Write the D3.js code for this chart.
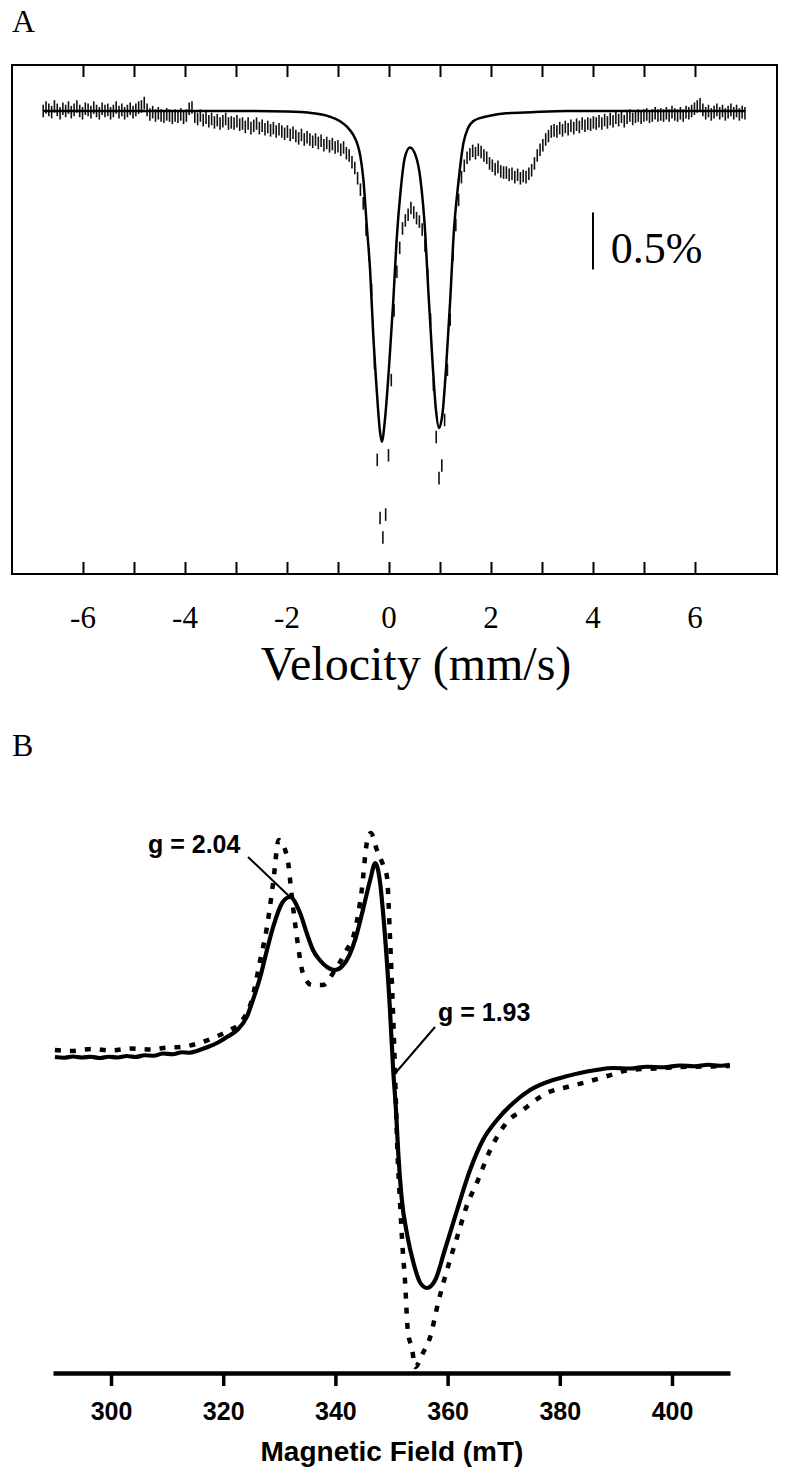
<!DOCTYPE html>
<html>
<head>
    <meta charset="utf-8">
    <title>Mossbauer and EPR spectra</title>
    <script src="https://cdn.jsdelivr.net/npm/d3@7"></script>
    <style>
        body { margin: 0; background: #fff; }
        svg { display: block; }
        .serif { font-family: "Liberation Serif", "Times New Roman", serif; fill: #000; }
        .sans { font-family: "Liberation Sans", Arial, sans-serif; font-weight: bold; fill: #000; }
    </style>
</head>
<body>
<script>
    // ---- panel A : Mossbauer spectrum (transmission change in %) ----
    // channels are evenly spaced in velocity between velStart and velEnd
    var velStart = -6.78, velEnd = 6.98;
    var transPct = [
        0, 0.03, 0.01, -0.01, 0.04, 0.01, -0.02, 0.02, 0, 0.03, -0.01, 0.01, 0.04, 0, -0.02, 0.02, 0.01, -0.01,
        0.03, 0, -0.02, 0.02, 0, 0.01, -0.02, 0, 0.03, -0.01, 0.01, -0.02, 0, 0.02, -0.01, 0.01, 0.03, 0.04,
        0.07, 0.01, -0.03, -0.01, -0.04, -0.02, -0.04, -0.05, -0.03, -0.04, -0.06, -0.04, -0.05, -0.03, -0.06, -0.04, 0.02, 0.03,
        -0.05, -0.07, -0.04, -0.08, -0.06, -0.09, -0.07, -0.10, -0.08, -0.11, -0.09, -0.07, -0.11, -0.10, -0.11, -0.09,
        -0.12, -0.11, -0.14, -0.11, -0.15, -0.13, -0.11, -0.15, -0.13, -0.16, -0.14, -0.17, -0.15, -0.18, -0.16, -0.18,
        -0.20, -0.18, -0.21, -0.19, -0.22, -0.24, -0.21, -0.25, -0.23, -0.25, -0.27, -0.25, -0.28, -0.26,
        -0.30, -0.28, -0.31, -0.29, -0.32, -0.31, -0.34, -0.32, -0.37, -0.39, -0.45, -0.50, -0.59, -0.69,
        -0.81, -1.04, -1.26, -1.57, -2.21, -3.06, -3.57, -3.74, -3.54, -3.02, -2.36, -1.75, -1.41, -1.20, -1.03, -0.96, -0.91, -0.85,
        -0.89, -0.94, -0.97, -1.04, -1.18, -1.44, -1.83, -2.40, -2.86, -3.22, -3.11, -2.71, -2.27, -1.83, -1.26, -1.00, -0.78,
        -0.58, -0.48, -0.41, -0.38, -0.35, -0.37, -0.34, -0.36, -0.39, -0.41,
        -0.46, -0.48, -0.51, -0.49, -0.53, -0.54, -0.54, -0.56, -0.55, -0.58,
        -0.56, -0.59, -0.57, -0.58, -0.55, -0.52, -0.46, -0.39, -0.34, -0.30,
        -0.25, -0.22, -0.18, -0.17, -0.18, -0.15, -0.17, -0.14, -0.16, -0.13,
        -0.15, -0.12, -0.14, -0.11, -0.13, -0.11, -0.12, -0.10, -0.11, -0.09,
        -0.11, -0.08, -0.10, -0.07, -0.09, -0.06, -0.08, -0.05, -0.09, -0.06,
        -0.04, -0.07, -0.05, -0.04, -0.06, -0.04, -0.03, -0.05, -0.04, -0.02,
        -0.04, -0.03, -0.04, -0.02, -0.04, -0.01, -0.03, -0.04, -0.02, -0.04,
        -0.01, -0.02, 0, 0.02, 0.04, 0.06, 0.01, -0.02, 0, -0.03,
        -0.01, 0.01, -0.02, 0, -0.03, -0.01, 0.01, -0.02, 0, -0.03,
        -0.01, -0.02
    ];
    var errPct = 0.055;

    var fitVel = [-6.78, -3.0, -2.0, -1.49, -1.16, -0.96, -0.82, -0.70, -0.62, -0.56, -0.50, -0.44, -0.37, -0.31,
        -0.24, -0.18, -0.14, -0.08, 0.0, 0.085, 0.15, 0.23, 0.31, 0.41, 0.53, 0.62, 0.71, 0.77, 0.86, 0.92,
        0.98, 1.05, 1.12, 1.20, 1.27, 1.36, 1.46, 1.55, 1.65, 1.80, 2.0, 2.3, 2.8, 3.5, 6.98];
    var fitPct = [0, 0, -0.005, -0.02, -0.05, -0.09, -0.14, -0.21, -0.29, -0.40, -0.61, -0.98, -1.40, -1.95,
        -2.45, -2.80, -2.90, -2.71, -2.25, -1.66, -1.13, -0.69, -0.41, -0.32, -0.40, -0.61, -1.07, -1.57, -2.25, -2.62,
        -2.78, -2.65, -2.25, -1.66, -1.07, -0.63, -0.28, -0.15, -0.09, -0.06, -0.04, -0.02, -0.01, 0, 0];

    var velTicks = [-6, -5, -4, -3, -2, -1, 0, 1, 2, 3, 4, 5, 6];
    var velLabels = [-6, -4, -2, 0, 2, 4, 6];

    // ---- panel B : EPR spectra (arbitrary units) ----
    var solidField = [290.0, 291.6, 293.2, 294.8, 296.4, 298.0, 299.6, 301.2, 302.8, 304.4, 306.0, 307.6, 309.3, 311.0,
        312.6, 314.0, 315.3, 317.0, 318.9, 320.8, 322.5, 324.2, 325.3, 326.6, 327.8, 328.9, 330.5, 331.9, 333.7, 335.0,
        336.0, 337.2, 338.5, 339.9, 341.2, 342.5, 343.5, 344.9, 346.2, 347.1, 347.9, 348.8, 349.7, 350.3, 350.8, 351.2,
        351.8, 352.8, 353.9, 355.1, 356.3, 357.8, 359.5, 361.7, 364.0, 366.3, 368.8, 371.7, 374.7, 378.8, 381.0, 383.6,
        386.5, 389.5, 392.5, 395.5, 398.5, 401.4, 404.0, 406.5, 408.5, 410.3];
    var solidSignal = [0.012, 0.009, 0.014, 0.01, 0.013, 0.008, 0.013, 0.01, 0.016, 0.012, 0.019, 0.017, 0.026, 0.023,
        0.031, 0.029, 0.036, 0.05, 0.068, 0.094, 0.12, 0.172, 0.24, 0.332, 0.44, 0.532, 0.628, 0.652, 0.588, 0.50,
        0.44, 0.40, 0.372, 0.36, 0.375, 0.42, 0.48, 0.60, 0.72, 0.788, 0.72, 0.508, 0.212, -0.04, -0.20, -0.37,
        -0.55, -0.70, -0.81, -0.89, -0.912, -0.88, -0.76, -0.60, -0.44, -0.32, -0.24, -0.172, -0.12, -0.08, -0.066, -0.052,
        -0.04, -0.032, -0.034, -0.027, -0.029, -0.022, -0.025, -0.019, -0.023, -0.019];

    var dotField = [290.0, 293.0, 296.5, 300.0, 303.4, 307.0, 310.0, 312.3, 315.5, 318.2, 321.0, 323.0, 325.1, 326.6,
        327.8, 328.9, 329.9, 331.4, 332.3, 333.2, 334.2, 335.8, 337.8, 339.6, 341.7, 343.5, 344.7, 345.6, 346.3, 347.4,
        348.5, 349.2, 349.7, 350.3, 350.6, 351.0, 351.5, 352.0, 352.4, 352.9, 353.7, 354.2, 355.6, 356.9, 358.3, 359.9,
        361.7, 363.6, 365.2, 367.6, 370.6, 373.4, 377.7, 381.3, 384.8, 388.5, 392.5, 397.0, 401.4, 406.0, 410.3];
    var dotSignal = [0.04, 0.036, 0.044, 0.038, 0.046, 0.042, 0.05, 0.052, 0.066, 0.088, 0.118, 0.148, 0.24, 0.40,
        0.532, 0.708, 0.88, 0.812, 0.64, 0.48, 0.348, 0.30, 0.30, 0.348, 0.428, 0.52, 0.68, 0.868, 0.908, 0.84,
        0.78, 0.732, 0.508, 0.172, -0.028, -0.332, -0.56, -0.76, -0.88, -1.08, -1.16, -1.228, -1.172, -1.108, -0.972, -0.84,
        -0.708, -0.572, -0.492, -0.36, -0.248, -0.20, -0.132, -0.108, -0.088, -0.064, -0.04, -0.034, -0.028, -0.026, -0.024];

    var fieldTicks = [300, 320, 340, 360, 380, 400];

    var width = 787, height = 1478;

    var svg = d3.select("body").append("svg")
            .attr("width", width)
            .attr("height", height);

    // ===================== panel A =====================
    var xA = d3.scaleLinear().domain([-7.392, 7.608]).range([12, 777]);
    var yA = d3.scaleLinear().domain([-4.061, 0.4035]).range([574, 65]);

    svg.append("text").attr("class", "serif")
            .attr("x", 12).attr("y", 32)
            .style("font-size", "32px")
            .text("A");

    var gA = svg.append("g");

    gA.append("rect")
            .attr("x", xA.range()[0]).attr("y", yA.range()[1])
            .attr("width", xA.range()[1] - xA.range()[0])
            .attr("height", yA.range()[0] - yA.range()[1])
            .attr("fill", "none").attr("stroke", "#000").attr("stroke-width", 2);

    // inward ticks, top and bottom
    var topAxis = d3.axisTop(xA).tickValues(velTicks).tickSize(-12).tickFormat("");
    var botAxis = d3.axisBottom(xA).tickValues(velTicks).tickSize(-12).tickFormat("");
    gA.append("g").attr("transform", "translate(0," + yA.range()[1] + ")").call(topAxis);
    gA.append("g").attr("transform", "translate(0," + yA.range()[0] + ")").call(botAxis);
    gA.selectAll(".domain").remove();
    gA.selectAll(".tick line").attr("stroke", "#000").attr("stroke-width", 2);

    gA.selectAll("text.vlab")
            .data(velLabels)
            .join("text")
            .attr("class", "serif vlab")
            .attr("x", function (d) { return xA(d); })
            .attr("y", 628)
            .attr("text-anchor", "middle")
            .style("font-size", "31px")
            .text(function (d) { return d < 0 ? "-" + Math.abs(d) : d; });

    gA.append("text").attr("class", "serif")
            .attr("x", 416).attr("y", 680)
            .attr("text-anchor", "middle")
            .style("font-size", "48px")
            .text("Velocity (mm/s)");

    // data points as vertical error bars
    var step = (velEnd - velStart) / (transPct.length - 1);
    var points = transPct.map(function (p, i) { return {v: velStart + i * step, p: p}; });

    gA.selectAll("line.bar")
            .data(points)
            .join("line")
            .attr("class", "bar")
            .attr("x1", function (d) { return xA(d.v); })
            .attr("x2", function (d) { return xA(d.v); })
            .attr("y1", function (d) { return yA(d.p + errPct); })
            .attr("y2", function (d) { return yA(d.p - errPct); })
            .attr("stroke", "#111")
            .attr("stroke-width", 1.6);

    var fitLine = d3.line()
            .x(function (d, i) { return xA(fitVel[i]); })
            .y(function (d) { return yA(d); })
            .curve(d3.curveMonotoneX);

    gA.append("path")
            .datum(fitPct)
            .attr("d", fitLine)
            .attr("fill", "none")
            .attr("stroke", "#000")
            .attr("stroke-width", 2.5);

    // 0.5 % scale bar
    gA.append("line")
            .attr("x1", xA(4.0)).attr("x2", xA(4.0))
            .attr("y1", yA(-0.89)).attr("y2", yA(-1.39))
            .attr("stroke", "#000").attr("stroke-width", 2);
    gA.append("text").attr("class", "serif")
            .attr("x", xA(4.35)).attr("y", 263)
            .style("font-size", "44px")
            .text("0.5%");

    // ===================== panel B =====================
    var xB = d3.scaleLinear().domain([289.66, 410.34]).range([53, 730]);
    var yB = d3.scaleLinear().domain([-1.252, 1]).range([1373, 810]);

    svg.append("text").attr("class", "serif")
            .attr("x", 12).attr("y", 756)
            .style("font-size", "32px")
            .text("B");

    var gB = svg.append("g");

    var epLine = d3.line()
            .x(function (d) { return xB(d[0]); })
            .y(function (d) { return yB(d[1]); })
            .curve(d3.curveMonotoneX);

    gB.append("path")
            .datum(dotField.map(function (f, i) { return [f, dotSignal[i]]; }))
            .attr("d", epLine)
            .attr("fill", "none")
            .attr("stroke", "#000")
            .attr("stroke-width", 4.5)
            .attr("stroke-dasharray", "6,9");

    gB.append("path")
            .datum(solidField.map(function (f, i) { return [f, solidSignal[i]]; }))
            .attr("d", epLine)
            .attr("fill", "none")
            .attr("stroke", "#000")
            .attr("stroke-width", 4.2)
            .attr("stroke-linejoin", "round");

    var fieldAxis = d3.axisBottom(xB).tickValues(fieldTicks).tickSize(13).tickSizeOuter(0);
    var axB = gB.append("g").attr("transform", "translate(0," + yB.range()[0] + ")").call(fieldAxis);
    axB.select(".domain").attr("stroke", "#000").attr("stroke-width", 4.5);
    axB.selectAll(".tick line").attr("stroke", "#000").attr("stroke-width", 3.5);
    axB.selectAll(".tick text")
            .attr("class", "sans")
            .attr("y", 47).attr("dy", 0)
            .style("font-size", "25px");

    gB.append("text").attr("class", "sans")
            .attr("x", 392).attr("y", 1461)
            .attr("text-anchor", "middle")
            .style("font-size", "28px")
            .text("Magnetic Field (mT)");

    // g-value labels with leader lines to the curve
    gB.append("line")
            .attr("x1", 248).attr("y1", 857)
            .attr("x2", xB(331.9)).attr("y2", yB(0.652))
            .attr("stroke", "#000").attr("stroke-width", 2);
    gB.append("text").attr("class", "sans")
            .attr("x", 148).attr("y", 853)
            .style("font-size", "25px")
            .text("g = 2.04");

    gB.append("line")
            .attr("x1", 435).attr("y1", 1027)
            .attr("x2", xB(350.4)).attr("y2", yB(-0.06))
            .attr("stroke", "#000").attr("stroke-width", 2);
    gB.append("text").attr("class", "sans")
            .attr("x", 438).attr("y", 1021)
            .style("font-size", "25px")
            .text("g = 1.93");
</script>
</body>
</html>
